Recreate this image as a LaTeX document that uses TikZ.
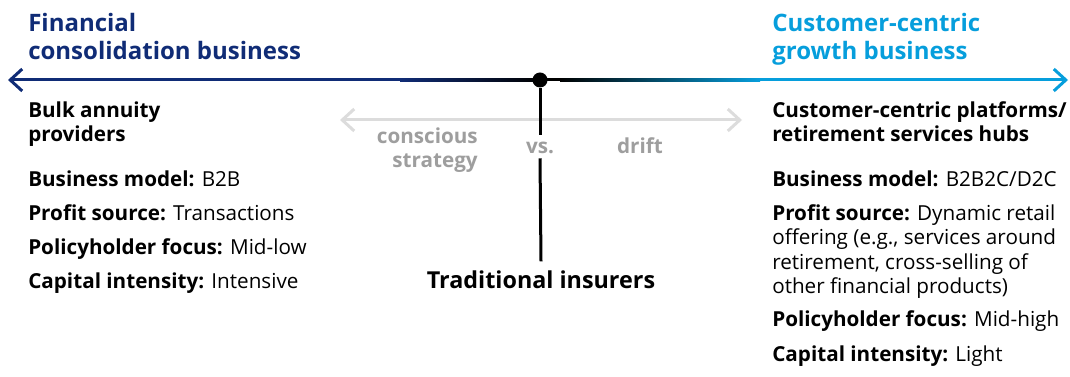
\documentclass[tikz,border=0pt]{standalone}
\usepackage{fontspec}
\setmainfont{Open Sans}
\usetikzlibrary{arrows.meta}
\definecolor{navyband}{RGB}{16,44,118}
\definecolor{skyband}{RGB}{6,158,220}
\definecolor{hintgray}{RGB}{158,158,158}
\definecolor{railgray}{RGB}{220,220,220}
\begin{document}
\begin{tikzpicture}[x=0.75pt, y=-0.75pt,
	heading/.style={font=\fontsize{18}{21.2}\selectfont\bfseries, align=left, anchor=base west, inner sep=0pt},
	subhead/.style={font=\fontsize{15.5}{18}\selectfont\bfseries, align=left, anchor=base west, inner sep=0pt},
	fact/.style={font=\fontsize{15.5}{18.2}\selectfont, align=left, anchor=base west, inner sep=0pt},
	hint/.style={font=\fontsize{15.5}{18}\selectfont\bfseries, text=hintgray, inner sep=0pt},
	barb/.tip={Straight Barb[length=9pt, width=16.5pt]}]
		\useasboundingbox (0,0) rectangle (1070,377);
		
		% --- 1. Points on the axis ---
		\coordinate (W) at (8,80);
		\coordinate (E) at (1068,80);
		\coordinate (Wfade) at (400,80); % navy starts to darken
		\coordinate (Efade) at (760,80); % blue fully reached
		\coordinate (RL) at (340,120); % grey rail, left end
		\coordinate (RR) at (742,120); % grey rail, right end
		
		% --- 2. Main axis (navy -> black -> blue) ---
		\draw[navyband, line width=2.25pt, {barb}-] (W) -- (Wfade);
		\shade[left color=navyband, right color=black] (400,78.5) rectangle (540,81.5);
		\fill[black] (540,78.5) rectangle (560,81.5);
		\shade[left color=black, right color=skyband] (560,78.5) rectangle (760,81.5);
		\draw[skyband, line width=2.25pt, -{barb}] (Efade) -- (E);
		
		% --- 3. Grey rail between the two poles ---
		\draw[railgray, line width=2.25pt, {barb}-{barb}] (RL) -- (RR);
		
		% --- 4. Middle marker ---
		\node[circle, fill=black, minimum size=11.25pt, inner sep=0pt] (dot) at (540,80) {};
		\node[hint, text height=11pt, text depth=0pt, inner sep=3pt, anchor=base] (vs) at (540,154) {vs.};
		\node[font=\fontsize{17.5}{20}\selectfont\bfseries, anchor=base, inner xsep=0pt, inner ysep=6.7pt] (trad) at (541,288.3) {Traditional insurers};
		\draw[line width=2.25pt] (dot) -- (vs.north);
		\draw[line width=2.25pt] (vs.south) -- (trad.north);
		
		% multi-line nodes sit on the baseline of their last line
		\node[hint, align=right, anchor=base east] (conscious) at (478,167.3) {conscious\\strategy};
		\node[hint, anchor=base] (drift) at (640,154) {drift};
		
		% --- 5. Poles ---
		\node[heading, text=navyband] (consol) at (28,60) {Financial\\consolidation business};
		\node[heading, text=skyband] (growth) at (772,60) {Customer-centric\\growth business};
		
		\node[subhead] (bulk) at (28,141.7) {Bulk annuity\\providers};
		\node[subhead] (hubs) at (772,141.7) {Customer-centric platforms/\\retirement services hubs};
		
		% left column facts
		\foreach \key/\val [count=\i] in {Business model/B2B, Profit source/Transactions,
			Policyholder focus/Mid-low, Capital intensity/Intensive}
			\node[fact] (bulk-\i) at (28,{152.8+33.9*\i}) {\textbf{\key:} \val};
		
		% right column facts
		\node[fact] (hubs-1) at (772,186.7) {\textbf{Business model:} B2B2C/D2C};
		\node[fact] (hubs-2) at (772,293.3) {\textbf{Profit source:} Dynamic retail\\offering (e.g., services around\\retirement, cross-selling of\\other financial products)};
		\node[fact] (hubs-3) at (772,326.7) {\textbf{Policyholder focus:} Mid-high};
		\node[fact] (hubs-4) at (772,361) {\textbf{Capital intensity:} Light};
	\end{tikzpicture}
\end{document}
